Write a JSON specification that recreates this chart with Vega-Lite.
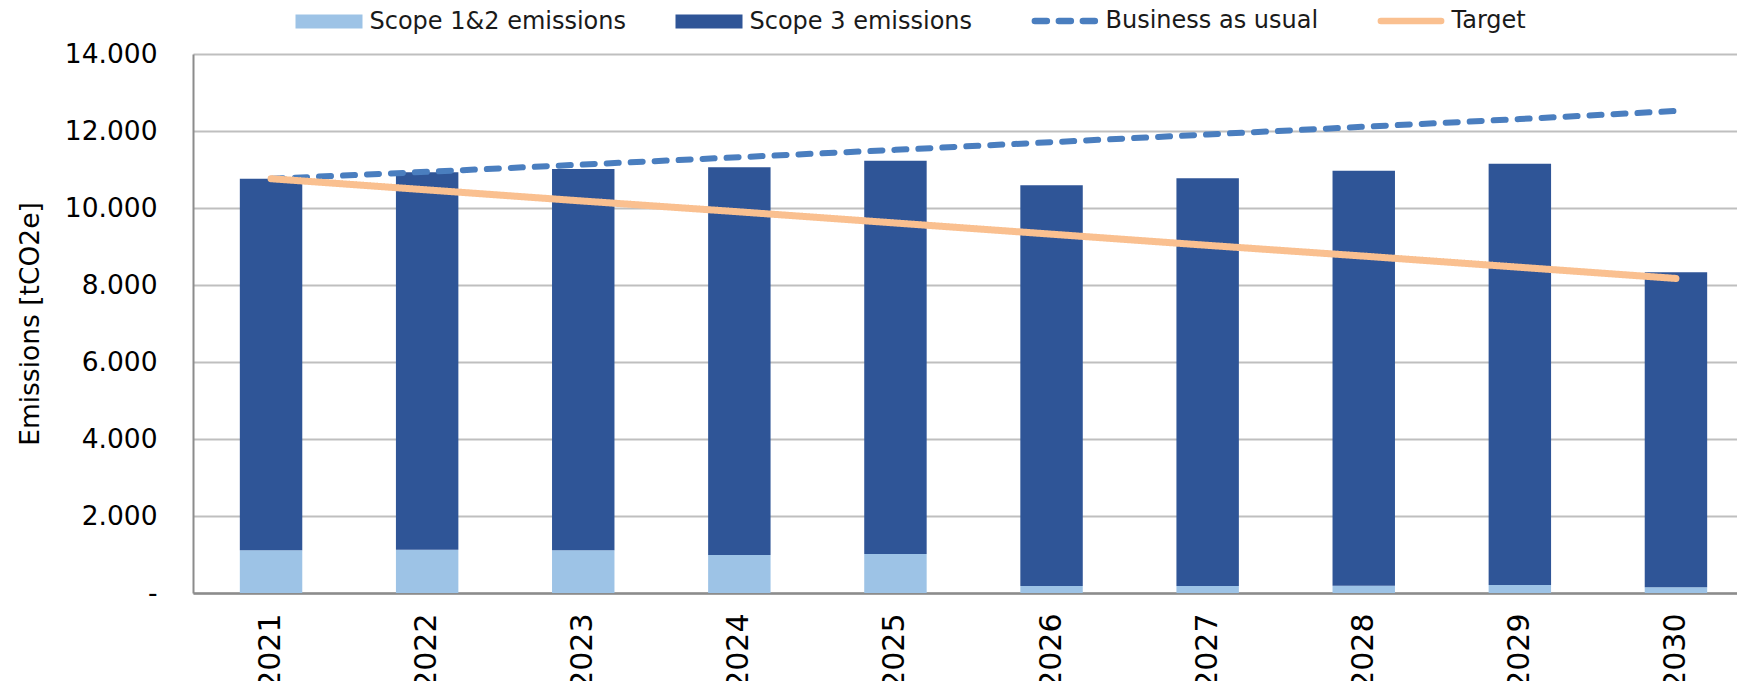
{
  "$schema": "https://vega.github.io/schema/vega-lite/v6.json",
  "autosize": {"type": "none"},
  "width": 1544,
  "height": 539,
  "padding": {"left": 193, "top": 54, "right": 0, "bottom": 88},
  "background": "white",
  "config": {
    "view": {"stroke": null},
    "font": "DejaVu Sans"
  },
  "data": {
    "values": [
      {"year": "2021", "series": "Scope 1&2 emissions", "value": 1110},
      {"year": "2022", "series": "Scope 1&2 emissions", "value": 1125},
      {"year": "2023", "series": "Scope 1&2 emissions", "value": 1110},
      {"year": "2024", "series": "Scope 1&2 emissions", "value": 990},
      {"year": "2025", "series": "Scope 1&2 emissions", "value": 1010},
      {"year": "2026", "series": "Scope 1&2 emissions", "value": 180},
      {"year": "2027", "series": "Scope 1&2 emissions", "value": 180},
      {"year": "2028", "series": "Scope 1&2 emissions", "value": 190},
      {"year": "2029", "series": "Scope 1&2 emissions", "value": 210},
      {"year": "2030", "series": "Scope 1&2 emissions", "value": 150},
      {"year": "2021", "series": "Scope 3 emissions", "value": 9650},
      {"year": "2022", "series": "Scope 3 emissions", "value": 9805},
      {"year": "2023", "series": "Scope 3 emissions", "value": 9900},
      {"year": "2024", "series": "Scope 3 emissions", "value": 10070},
      {"year": "2025", "series": "Scope 3 emissions", "value": 10220},
      {"year": "2026", "series": "Scope 3 emissions", "value": 10410},
      {"year": "2027", "series": "Scope 3 emissions", "value": 10590},
      {"year": "2028", "series": "Scope 3 emissions", "value": 10780},
      {"year": "2029", "series": "Scope 3 emissions", "value": 10940},
      {"year": "2030", "series": "Scope 3 emissions", "value": 8180},
      {"year": "2021", "series": "Business as usual", "value": 10760},
      {"year": "2022", "series": "Business as usual", "value": 10940},
      {"year": "2023", "series": "Business as usual", "value": 11130},
      {"year": "2024", "series": "Business as usual", "value": 11320},
      {"year": "2025", "series": "Business as usual", "value": 11510},
      {"year": "2026", "series": "Business as usual", "value": 11710},
      {"year": "2027", "series": "Business as usual", "value": 11910},
      {"year": "2028", "series": "Business as usual", "value": 12110},
      {"year": "2029", "series": "Business as usual", "value": 12310},
      {"year": "2030", "series": "Business as usual", "value": 12520},
      {"year": "2021", "series": "Target", "value": 10760},
      {"year": "2022", "series": "Target", "value": 10470},
      {"year": "2023", "series": "Target", "value": 10180},
      {"year": "2024", "series": "Target", "value": 9900},
      {"year": "2025", "series": "Target", "value": 9610},
      {"year": "2026", "series": "Target", "value": 9320},
      {"year": "2027", "series": "Target", "value": 9030},
      {"year": "2028", "series": "Target", "value": 8750},
      {"year": "2029", "series": "Target", "value": 8460},
      {"year": "2030", "series": "Target", "value": 8170}
    ]
  },
  "encoding": {
    "x": {
      "field": "year",
      "type": "ordinal",
      "scale": {"range": [0, 1561], "paddingInner": 0.6, "paddingOuter": 0.3},
      "axis": {
        "title": null,
        "labelAngle": -90,
        "labelFontSize": 30,
        "labelFont": "DejaVu Sans",
        "labelColor": "#000000",
        "labelPadding": 20,
        "ticks": false,
        "tickSize": 0,
        "domainColor": "#8C8C8C",
        "domainWidth": 2.5,
        "grid": false
      }
    },
    "color": {
      "field": "series",
      "type": "nominal",
      "scale": {
        "domain": ["Scope 1&2 emissions", "Scope 3 emissions", "Business as usual", "Target"],
        "range": ["#9DC3E6", "#2F5597", "#4A7EBF", "#FAC090"]
      },
      "legend": {
        "title": null,
        "orient": "none",
        "legendX": 124,
        "legendY": -45,
        "direction": "horizontal",
        "columns": 4,
        "columnPadding": 48,
        "padding": 0,
        "labelFont": "DejaVu Sans",
        "labelFontSize": 24,
        "labelColor": "#1A1A1A",
        "labelOffset": 28.5,
        "labelLimit": 400,
        "symbolSize": 4489,
        "symbolType": "M-1,-0.21H1V0.21H-1Z",
        "encode": {
          "symbols": {
            "update": {
              "shape": {"signal": "(datum.value == 'Business as usual' || datum.value == 'Target') ? 'M-0.9,0H0.9' : 'M-1,-0.21H1V0.21H-1Z'"},
              "fill": {"signal": "(datum.value == 'Business as usual' || datum.value == 'Target') ? 'transparent' : scale('color', datum.value)"},
              "stroke": {"signal": "(datum.value == 'Business as usual' || datum.value == 'Target') ? scale('color', datum.value) : 'transparent'"},
              "strokeWidth": {"signal": "(datum.value == 'Business as usual' || datum.value == 'Target') ? 6.5 : 0"},
              "strokeDash": {"signal": "datum.value == 'Business as usual' ? [12, 12] : [1, 0]"},
              "strokeCap": {"value": "round"},
              "opacity": {"value": 1}
            }
          }
        }
      }
    }
  },
  "layer": [
    {
      "transform": [{"filter": "datum.series == 'Scope 1&2 emissions' || datum.series == 'Scope 3 emissions'"}],
      "mark": {"type": "bar", "opacity": 1},
      "encoding": {
        "y": {
          "field": "value",
          "type": "quantitative",
          "stack": "zero",
          "scale": {"domain": [0, 14000], "nice": false},
          "axis": {
            "title": "Emissions [tCO2e]",
            "titleFont": "DejaVu Sans",
            "titleFontSize": 26.5,
            "titleFontWeight": "normal",
            "titleColor": "#000000",
            "titlePadding": 20,
            "values": [0, 2000, 4000, 6000, 8000, 10000, 12000, 14000],
            "labelExpr": "datum.value == 0 ? '-\u00a0\u00a0' : replace(format(datum.value, ','), ',', '.')",
            "labelFont": "DejaVu Sans",
            "labelFontSize": 26.5,
            "labelColor": "#000000",
            "labelPadding": 36,
            "ticks": false,
            "tickSize": 0,
            "domainColor": "#8C8C8C",
            "domainWidth": 2,
            "grid": true,
            "gridColor": "#BFBFBF",
            "gridWidth": 2
          }
        },
        "order": {"field": "series", "sort": "ascending"}
      }
    },
    {
      "transform": [{"filter": "datum.series == 'Business as usual' || datum.series == 'Target'"}],
      "mark": {"type": "line", "strokeCap": "round", "strokeJoin": "round"},
      "encoding": {
        "y": {"field": "value", "type": "quantitative"},
        "strokeDash": {
          "field": "series",
          "type": "nominal",
          "scale": {"domain": ["Business as usual", "Target"], "range": [[12, 12], [1, 0]]},
          "legend": null
        },
        "strokeWidth": {
          "field": "series",
          "type": "nominal",
          "scale": {"domain": ["Business as usual", "Target"], "range": [6, 7]},
          "legend": null
        }
      }
    }
  ]
}
